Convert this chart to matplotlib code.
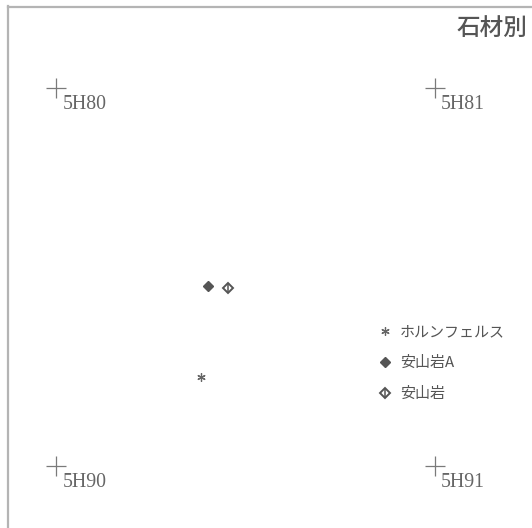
import matplotlib
matplotlib.use("Agg")
import matplotlib.pyplot as plt
from matplotlib.legend_handler import HandlerTuple

plt.rcParams['font.family'] = ['Noto Sans CJK JP', 'DejaVu Sans']

# grid points (local metres; 4 m grid)
grid_labels = ["5H80", "5H81", "5H90", "5H91"]
grid_x = [0.0, 4.0, 0.0, 4.0]
grid_y = [4.0, 4.0, 0.0, 0.0]

# artefacts by stone material
hornfels_x = [1.524]
hornfels_y = [0.939]
andesiteA_x = [1.60]
andesiteA_y = [1.908]
andesite_x = [1.816]
andesite_y = [1.884]

legend_labels = ["ホルンフェルス", "安山岩A", "安山岩"]
title = "石材別"

W, H = 532, 528
fig = plt.figure(figsize=(W / 100, H / 100), dpi=100)
# axes whose left/top edges are the frame; right/bottom run off the figure
ax = fig.add_axes([7.5 / W, 0, 1.0, (H - 6.5) / H])
x0, y0 = 56.5, 466.0   # pixel position of grid origin
sx, sy = 94.6, 94.5    # px per metre
ax.set_xlim(-(x0 - 7.5) / sx, -(x0 - 7.5) / sx + W / sx)
ax.set_ylim(-(H - y0) / sy, (y0 - 6.5) / sy)
for s in ["right", "bottom"]:
    ax.spines[s].set_visible(False)
for s in ["left", "top"]:
    ax.spines[s].set_color("#b4b4b4")
    ax.spines[s].set_linewidth(1.6)
ax.set_xticks([])
ax.set_yticks([])

gray = "#555555"
ax.plot(grid_x, grid_y, linestyle="none", marker="+", markersize=14.5,
        markeredgewidth=0.9, color="#7a7a7a")
for lx, ly, lab in zip(grid_x, grid_y, grid_labels):
    ax.annotate(lab, (lx, ly), xytext=(4.3, -4.8), textcoords="offset points",
                ha="left", va="top", fontsize=14.3, color="#666666",
                family=["Liberation Serif", "DejaVu Serif"])

h1, = ax.plot(hornfels_x, hornfels_y, linestyle="none", marker=(6, 2, 0),
              markersize=6, markeredgewidth=0.9, color="#666666")
h2, = ax.plot(andesiteA_x, andesiteA_y, linestyle="none", marker="D",
              markersize=5.5, color=gray)
h3a, = ax.plot(andesite_x, andesite_y, linestyle="none", marker="D",
               markersize=5.5, markerfacecolor="white", markeredgecolor=gray,
               markeredgewidth=1.4)
h3b, = ax.plot(andesite_x, andesite_y, linestyle="none", marker="|",
               markersize=7.5, markeredgewidth=1.1, color=gray)

leg = ax.legend([h1, h2, (h3a, h3b)], legend_labels,
                handler_map={tuple: HandlerTuple(ndivide=1, pad=0)},
                loc="upper left", bbox_to_anchor=(379 / W, 1 - 325 / H),
                bbox_transform=fig.transFigure, frameon=False, fontsize=10.8,
                labelspacing=1.12, handlelength=0.8, handletextpad=0.6,
                borderpad=0, borderaxespad=0, labelcolor="#555555")

fig.text(527 / W, 1 - 28 / H, title, ha="right", va="center", fontsize=17,
         color="#555555", fontweight="medium")

fig.savefig("out.png", dpi=100)
